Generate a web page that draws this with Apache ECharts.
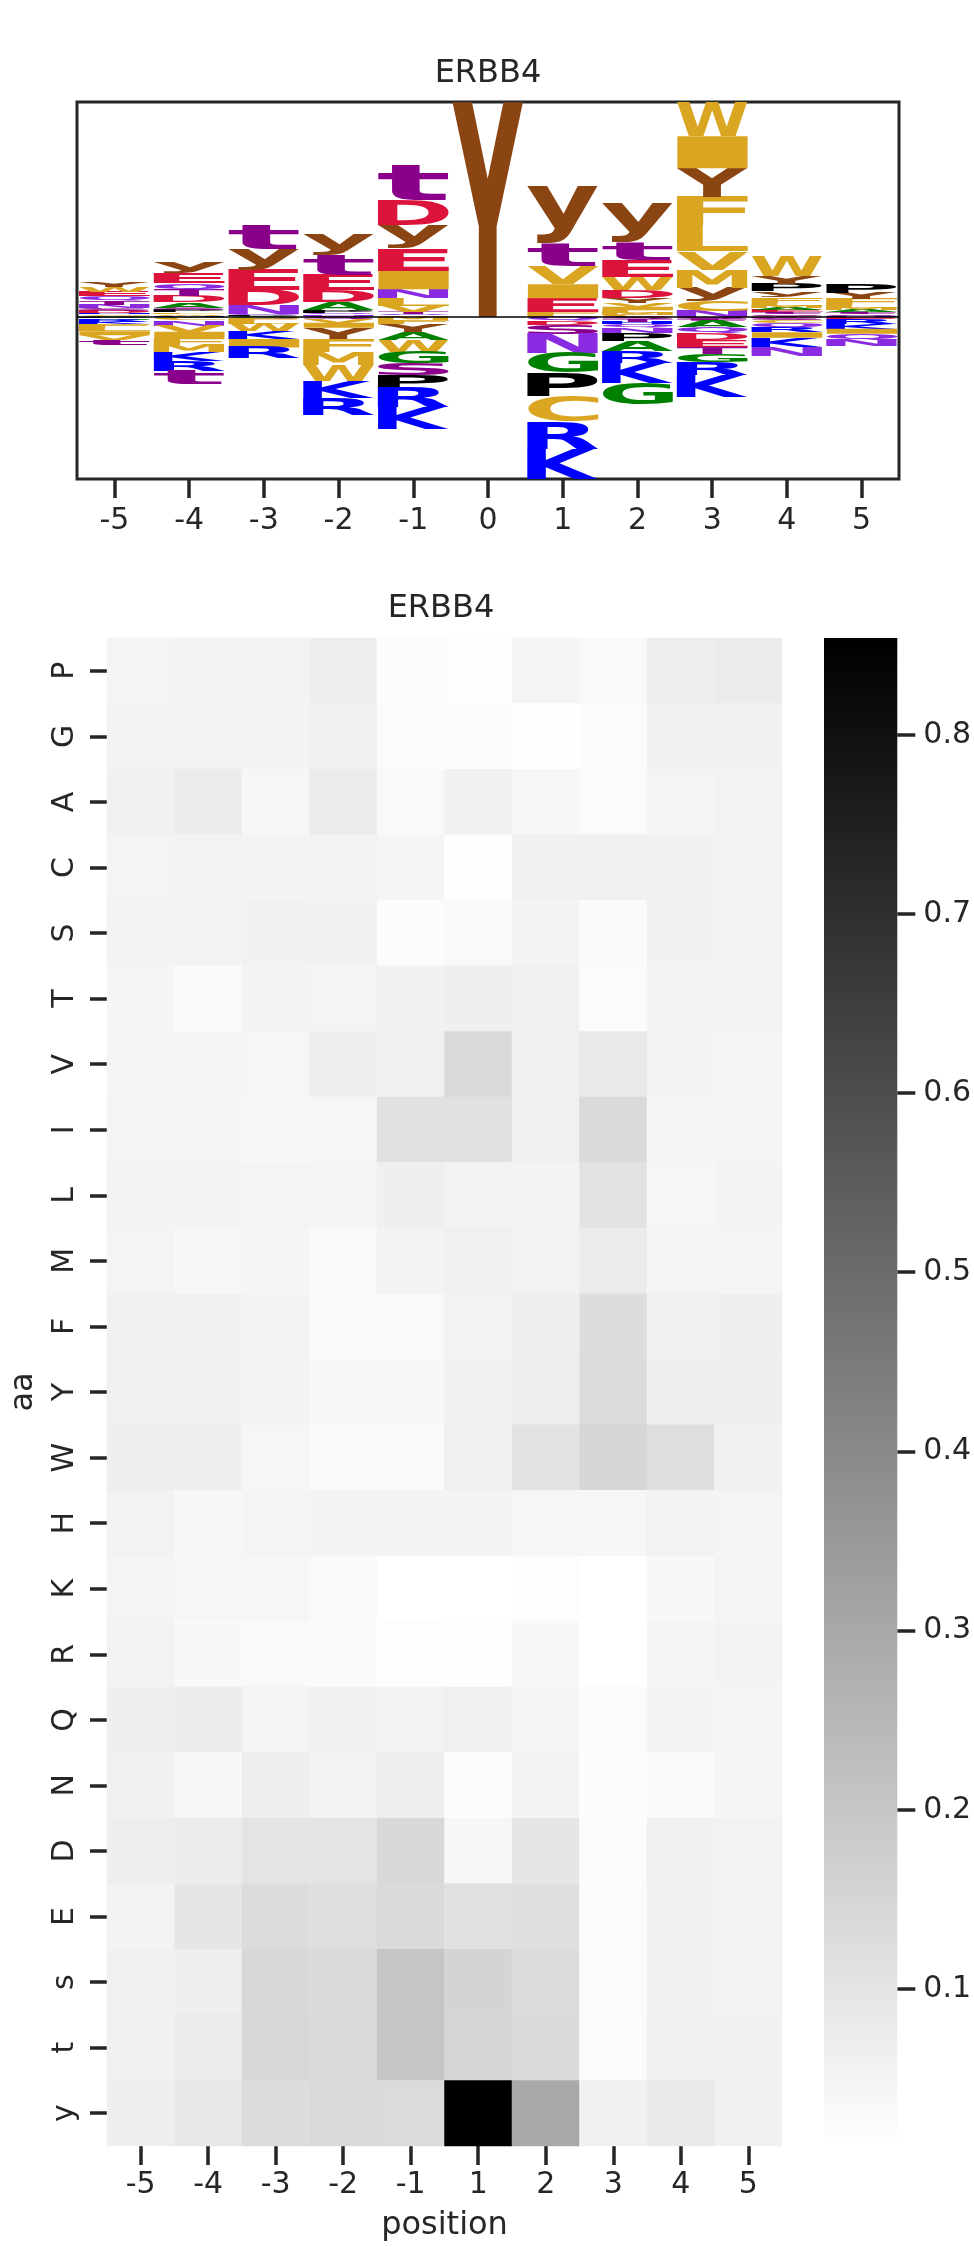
<!DOCTYPE html>
<html><head><meta charset="utf-8">
<script src="https://cdn.jsdelivr.net/npm/echarts@6/dist/echarts.min.js"></script>
<style>html,body{margin:0;padding:0;background:#fff}#chart{width:974px;height:2247px}</style>
</head><body><div id="chart"></div>
<script>
// ---------- categories / ticks ----------
const logoPositions = ['-5','-4','-3','-2','-1','0','1','2','3','4','5'];
const heatPositions = ['-5','-4','-3','-2','-1','1','2','3','4','5'];
const aaRows = ['P','G','A','C','S','T','V','I','L','M','F','Y','W','H','K','R','Q','N','D','E','s','t','y'];
const cbTicks = [0.1,0.2,0.3,0.4,0.5,0.6,0.7,0.8];
const cbMin = 0.0123, cbMax = 0.854;

// ---------- logo: letter heights per position (positive up, negative down) ----------
const logo_m5 = [['A',0.01],['C',0.015],['H',0.015],['D',0.02],['S',0.025],['N',0.035],['T',0.04],['Q',0.045],['E',0.045],['W',0.05],['Y',0.055],
  ['P',-0.015],['G',-0.015],['R',-0.02],['K',-0.025],['F',-0.035],['L',-0.035],['I',-0.04],['V',-0.045],['t',-0.05]];
const logo_m4 = [['H',0.012],['W',0.015],['L',0.018],['P',0.02],['S',0.025],['A',0.055],['D',0.06],['T',0.065],['Q',0.066],['E',0.1],['y',0.105],
  ['G',-0.015],['C',-0.02],['N',-0.055],['V',-0.06],['I',-0.062],['F',-0.068],['M',-0.072],['K',-0.09],['R',-0.1],['t',-0.13]];
const logo_m3 = [['A',0.008],['P',0.01],['Q',0.012],['N',0.09],['D',0.15],['E',0.2],['y',0.21],['t',0.23],
  ['G',-0.01],['S',-0.015],['F',-0.02],['L',-0.025],['W',-0.075],['K',-0.076],['I',-0.085],['R',-0.11]];
const logo_m2 = [['G',0.01],['N',0.015],['Q',0.015],['P',0.03],['A',0.08],['D',0.12],['E',0.15],['t',0.2],['y',0.205],
  ['S',-0.025],['V',-0.035],['I',-0.05],['Y',-0.12],['F',-0.125],['M',-0.13],['W',-0.155],['K',-0.165],['R',-0.17]];
const logo_m1 = [['C',0.01],['Q',0.015],['T',0.02],['V',0.065],['L',0.075],['N',0.09],['I',0.18],['E',0.225],['y',0.23],['D',0.25],['t',0.35],
  ['M',-0.035],['F',-0.04],['Y',-0.08],['A',-0.082],['W',-0.11],['G',-0.115],['S',-0.12],['P',-0.125],['R',-0.19],['K',-0.22]];
const logo_0 = [['Y',2.14]];
const logo_p1 = [['L',0.02],['F',0.03],['E',0.135],['I',0.14],['V',0.18],['t',0.22],['y',0.58],
  ['Q',-0.04],['D',-0.042],['S',-0.09],['N',-0.19],['G',-0.195],['P',-0.24],['C',-0.25],['R',-0.27],['K',-0.3]];
const logo_p2 = [['C',0.02],['M',0.02],['L',0.025],['I',0.035],['V',0.04],['Y',0.05],['D',0.08],['W',0.13],['E',0.17],['t',0.175],['y',0.39],
  ['S',-0.025],['T',-0.025],['H',-0.025],['Q',-0.035],['N',-0.05],['P',-0.08],['A',-0.1],['R',-0.12],['K',-0.2],['G',-0.21]];
const logo_p3 = [['N',0.06],['C',0.1],['y',0.13],['M',0.18],['V',0.185],['L',0.255],['F',0.28],['Y',0.29],['I',0.32],['W',0.33],
  ['S',-0.01],['s',-0.015],['t',-0.02],['A',-0.06],['Q',-0.062],['D',-0.065],['E',-0.068],['T',-0.07],['G',-0.08],['R',-0.13],['K',-0.22]];
const logo_p4 = [['T',0.01],['S',0.015],['t',0.02],['E',0.02],['A',0.02],['M',0.025],['L',0.03],['F',0.055],['y',0.058],['P',0.075],['Y',0.08],['W',0.19],
  ['D',-0.015],['s',-0.02],['C',-0.03],['Q',-0.04],['R',-0.05],['I',-0.055],['K',-0.09],['N',-0.095]];
const logo_p5 = [['H',0.01],['S',0.015],['t',0.02],['A',0.02],['M',0.02],['L',0.03],['F',0.06],['Y',0.065],['P',0.09],
  ['D',-0.012],['E',-0.015],['R',-0.045],['K',-0.048],['I',-0.05],['Q',-0.06],['N',-0.065]];
const logoColumns = [logo_m5,logo_m4,logo_m3,logo_m2,logo_m1,logo_0,logo_p1,logo_p2,logo_p3,logo_p4,logo_p5];

// ---------- heatmap values per row (columns = heatPositions) ----------
const hm_P = [0.049,0.056,0.053,0.069,0.023,0.020,0.046,0.033,0.069,0.079];
const hm_G = [0.053,0.056,0.053,0.059,0.026,0.023,0.016,0.023,0.059,0.059];
const hm_A = [0.059,0.076,0.043,0.079,0.033,0.059,0.039,0.026,0.049,0.056];
const hm_C = [0.049,0.056,0.053,0.056,0.046,0.016,0.059,0.063,0.059,0.056];
const hm_S = [0.053,0.053,0.059,0.059,0.023,0.033,0.053,0.030,0.059,0.056];
const hm_T = [0.046,0.030,0.053,0.049,0.059,0.066,0.063,0.026,0.053,0.056];
const hm_V = [0.046,0.046,0.043,0.066,0.063,0.138,0.063,0.086,0.053,0.049];
const hm_I = [0.049,0.046,0.039,0.043,0.112,0.112,0.063,0.135,0.046,0.046];
const hm_L = [0.053,0.053,0.049,0.049,0.066,0.056,0.053,0.109,0.043,0.053];
const hm_M = [0.049,0.039,0.046,0.033,0.053,0.063,0.056,0.079,0.046,0.049];
const hm_F = [0.059,0.059,0.053,0.033,0.033,0.056,0.069,0.125,0.063,0.066];
const hm_Y = [0.059,0.059,0.053,0.036,0.036,0.059,0.072,0.129,0.066,0.066];
const hm_W = [0.069,0.066,0.043,0.030,0.030,0.063,0.109,0.148,0.122,0.059];
const hm_H = [0.056,0.039,0.049,0.053,0.053,0.053,0.043,0.043,0.056,0.049];
const hm_K = [0.049,0.043,0.043,0.033,0.013,0.013,0.020,0.013,0.036,0.049];
const hm_R = [0.056,0.036,0.033,0.030,0.020,0.016,0.036,0.013,0.046,0.053];
const hm_Q = [0.066,0.076,0.049,0.059,0.056,0.063,0.046,0.026,0.053,0.046];
const hm_N = [0.059,0.036,0.069,0.053,0.069,0.023,0.053,0.023,0.033,0.046];
const hm_D = [0.069,0.076,0.102,0.102,0.142,0.039,0.096,0.023,0.063,0.056];
const hm_E = [0.053,0.096,0.129,0.119,0.135,0.112,0.119,0.023,0.059,0.056];
const hm_s = [0.059,0.066,0.142,0.135,0.204,0.155,0.129,0.026,0.059,0.056];
const hm_t = [0.059,0.076,0.145,0.135,0.204,0.152,0.135,0.026,0.063,0.059];
const hm_y = [0.066,0.092,0.129,0.138,0.132,0.854,0.300,0.059,0.086,0.059];
const heatRows = [hm_P,hm_G,hm_A,hm_C,hm_S,hm_T,hm_V,hm_I,hm_L,hm_M,hm_F,hm_Y,hm_W,hm_H,hm_K,hm_R,hm_Q,hm_N,hm_D,hm_E,hm_s,hm_t,hm_y];

// ---------- styling ----------
const FONT = '"DejaVu Sans", "Liberation Sans", sans-serif';
const INK = '#262626';
const LETTER_FONT = 'bold 100px "DejaVu Sans"';
const letterColor = ch => {
  if ('KRH'.includes(ch)) return '#0000ff';
  if ('DE'.includes(ch)) return '#dc143c';
  if ('NQ'.includes(ch)) return '#8a2be2';
  if ('STst'.includes(ch)) return '#8b008b';
  if ('GA'.includes(ch)) return '#008000';
  if (ch === 'P') return '#000000';
  if ('Yy'.includes(ch)) return '#8b4513';
  return '#daa520';
};

// stack letters: ascending magnitude outward from zero
const logoData = [], logoLetters = [];
let posMax = 0, negMax = 0;
logoColumns.forEach((col, ci) => {
  const pos = col.filter(d => d[1] > 0).sort((a,b) => a[1]-b[1]);
  const neg = col.filter(d => d[1] < 0).sort((a,b) => b[1]-a[1]);
  let acc = 0;
  pos.forEach(d => { logoData.push([ci, acc, acc + d[1]]); logoLetters.push(d[0]); acc += d[1]; });
  posMax = Math.max(posMax, acc);
  acc = 0;
  neg.forEach(d => { logoData.push([ci, acc + d[1], acc]); logoLetters.push(d[0]); acc += d[1]; });
  negMax = Math.max(negMax, -acc);
});

const measCtx = document.createElement('canvas').getContext('2d');
measCtx.font = LETTER_FONT; measCtx.textBaseline = 'middle'; measCtx.textAlign = 'left';
const glyphCache = {};
function glyphBox(ch) {
  if (!glyphCache[ch]) {
    const m = measCtx.measureText(ch);
    glyphCache[ch] = {l: m.actualBoundingBoxLeft, r: m.actualBoundingBoxRight, a: m.actualBoundingBoxAscent, d: m.actualBoundingBoxDescent};
  }
  return glyphCache[ch];
}

function renderLetter(params, api) {
  const ch = logoLetters[params.dataIndex];
  const bw = api.size([1, 0])[0] * 0.95;
  const pLo = api.coord([api.value(0), api.value(1)]);
  const pHi = api.coord([api.value(0), api.value(2)]);
  const top = Math.min(pLo[1], pHi[1]);
  const h = Math.abs(pLo[1] - pHi[1]);
  if (h < 0.1) return null;
  const g = glyphBox(ch);
  const sx = bw / (g.l + g.r), sy = h / (g.a + g.d);
  return {
    type: 'text', silent: true,
    x: pLo[0] - bw / 2 + sx * g.l, y: top + sy * g.a, scaleX: sx, scaleY: sy,
    style: {text: ch, x: 0, y: 0, font: LETTER_FONT, fill: letterColor(ch), textAlign: 'left', textVerticalAlign: 'middle'}
  };
}

const heatData = [];
heatRows.forEach((row, ri) => row.forEach((v, ci) => heatData.push([ci, ri, v])));

function renderColorbar(params, api) {
  const a = api.coord([0, api.value(1)]);
  const b = api.coord([1, api.value(0)]);
  return {
    type: 'rect', silent: true,
    shape: {x: a[0], y: a[1], width: b[0]-a[0], height: b[1]-a[1]},
    style: {fill: new echarts.graphic.LinearGradient(0,0,0,1,[{offset:0,color:'#000000'},{offset:1,color:'#ffffff'}])}
  };
}

const tickStyle = {color: INK, width: 3.5};
const labelStyle = {fontSize: 30, fontFamily: FONT, color: INK};

const chart = echarts.init(document.getElementById('chart'), null, {renderer: 'canvas'});
chart.setOption({
  animation: false,
  backgroundColor: '#ffffff',
  title: [
    {text: 'ERBB4', left: 488, top: 58, textAlign: 'center', padding: 0, textStyle: {fontSize: 32, fontWeight: 'normal', fontFamily: FONT, color: INK}},
    {text: 'ERBB4', left: 441, top: 593, textAlign: 'center', padding: 0, textStyle: {fontSize: 32, fontWeight: 'normal', fontFamily: FONT, color: INK}}
  ],
  grid: [
    {left: 77, top: 102, width: 822, height: 377, show: true, borderColor: INK, borderWidth: 3, backgroundColor: 'transparent'},
    {left: 100, top: 638, width: 682, height: 1509},
    {left: 824, top: 638, width: 76, height: 1508}
  ],
  xAxis: [
    {gridIndex: 0, type: 'category', data: logoPositions, boundaryGap: true, position: 'bottom',
     axisLine: {show: false, onZero: false}, splitLine: {show: false},
     axisTick: {show: true, alignWithLabel: true, length: 19, lineStyle: tickStyle},
     axisLabel: Object.assign({margin: 27, interval: 0}, labelStyle)},
    {gridIndex: 1, type: 'category', data: heatPositions, position: 'bottom',
     axisLine: {show: false, onZero: false}, splitLine: {show: false},
     axisTick: {show: true, alignWithLabel: true, length: 19, lineStyle: tickStyle},
     axisLabel: Object.assign({margin: 24, interval: 0}, labelStyle),
     name: 'position', nameLocation: 'middle', nameGap: 64,
     nameTextStyle: {fontSize: 32, fontFamily: FONT, color: INK}},
    {gridIndex: 2, type: 'value', min: 0, max: 1, show: false}
  ],
  yAxis: [
    {gridIndex: 0, type: 'value', min: -negMax, max: posMax, show: false, splitLine: {show: false}},
    {gridIndex: 1, type: 'category', data: aaRows, inverse: true,
     axisLine: {show: false, onZero: false}, splitLine: {show: false},
     axisTick: {show: true, alignWithLabel: true, length: 17, lineStyle: tickStyle},
     axisLabel: Object.assign({margin: 27, rotate: 90, interval: 0}, labelStyle),
     name: 'aa', nameLocation: 'middle', nameGap: 67, nameRotate: 90,
     nameTextStyle: {fontSize: 32, fontFamily: FONT, color: INK}},
    {gridIndex: 2, type: 'value', position: 'right', min: cbMin, max: cbMax,
     axisLine: {show: false, onZero: false}, splitLine: {show: false},
     axisTick: {show: true, length: 18, lineStyle: tickStyle, customValues: cbTicks},
     axisLabel: Object.assign({margin: 26, customValues: cbTicks, formatter: v => Number(v).toFixed(1)}, labelStyle)}
  ],
  visualMap: {type: 'continuous', show: false, min: cbMin, max: cbMax, seriesIndex: 1, inRange: {color: ['#ffffff', '#000000']}},
  series: [
    {type: 'custom', xAxisIndex: 0, yAxisIndex: 0, data: logoData, renderItem: renderLetter, silent: true, clip: false,
     encode: {x: 0, y: [1, 2]},
     markLine: {silent: true, symbol: 'none', label: {show: false}, data: [{yAxis: 0}], lineStyle: {color: '#000000', width: 1.5, type: 'solid'}}},
    {type: 'heatmap', xAxisIndex: 1, yAxisIndex: 1, data: heatData, silent: true, itemStyle: {borderWidth: 0}, emphasis: {disabled: true}, progressive: 0},
    {type: 'custom', xAxisIndex: 2, yAxisIndex: 2, data: [[cbMin, cbMax]], renderItem: renderColorbar, silent: true, encode: {y: [0, 1]}}
  ]
});
</script></body></html>
